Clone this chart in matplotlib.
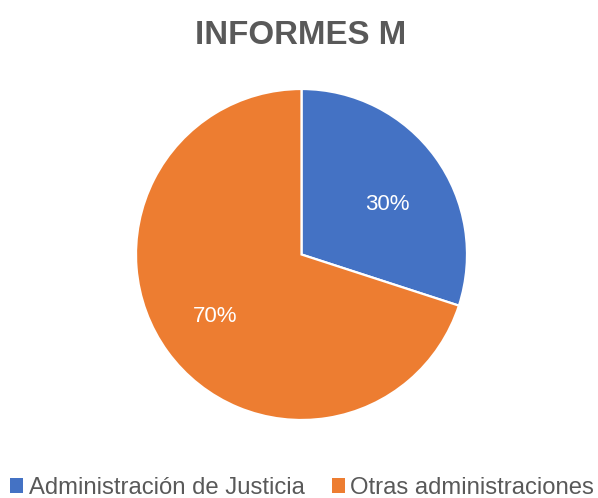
import matplotlib
matplotlib.use("Agg")
import matplotlib.pyplot as plt
import numpy as np
from matplotlib.patches import Patch

categories = ["Administración de Justicia", "Otras administraciones"]
values = [30, 70]
colors = ["#4472C4", "#ED7D31"]
title = "INFORMES M"

W, H = 598, 498
fig = plt.figure(figsize=(W / 100, H / 100), dpi=100)
plt.rcParams['font.family'] = ['Liberation Sans', 'DejaVu Sans']

cx, cy, r = 301.5, 254.5, 165.5
ax = fig.add_axes([(cx - r) / W, (H - cy - r) / H, 2 * r / W, 2 * r / H])
wedges, texts, autotexts = ax.pie(
    values, colors=colors, startangle=90, counterclock=False, radius=1,
    autopct='%1.0f%%', pctdistance=0.62,
    wedgeprops=dict(edgecolor='white', linewidth=1.6),
    textprops=dict(color='white', fontsize=16))
# nudge labels to mimic the reference's label placement
for w, t in zip(wedges, autotexts):
    ang = np.deg2rad((w.theta1 + w.theta2) / 2 - 3)
    t.set_position((0.62 * np.cos(ang), 0.62 * np.sin(ang) - 0.035))
ax.set_xlim(-1, 1)
ax.set_ylim(-1, 1)
ax.set_aspect('equal')
ax.axis('off')

fig.text(301 / W, 1 - 35 / H, title, ha='center', va='center',
         fontsize=23.8, fontweight='bold', color='#595959')

handles = [Patch(facecolor=c, edgecolor='none') for c in colors]
fig.legend(handles, categories, loc='center', bbox_to_anchor=(302 / W, 1 - 488 / H),
           ncol=2, frameon=False, fontsize=17.2, labelcolor='#595959',
           handlelength=0.55, handleheight=0.55, handletextpad=0.21,
           columnspacing=1.14, borderpad=0, borderaxespad=0)

fig.savefig("out.png", dpi=100)
